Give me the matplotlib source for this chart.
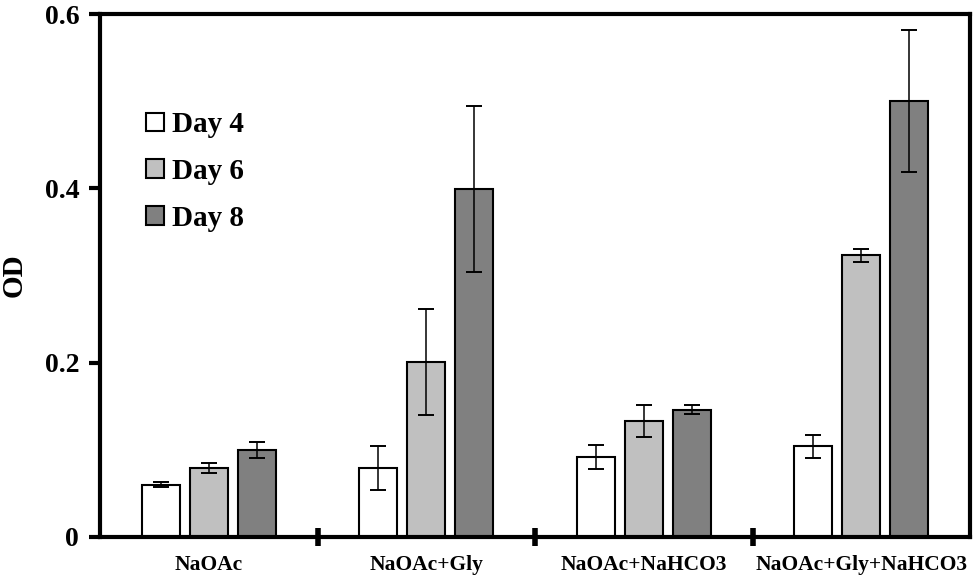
import matplotlib
matplotlib.use("Agg")
import matplotlib.pyplot as plt
import numpy as np

categories = ["NaOAc", "NaOAc+Gly", "NaOAc+NaHCO3", "NaOAc+Gly+NaHCO3"]
series_names = ["Day 4", "Day 6", "Day 8"]
day4 = [0.060, 0.079, 0.092, 0.104]
day6 = [0.079, 0.201, 0.133, 0.323]
day8 = [0.100, 0.399, 0.146, 0.500]
err4 = [0.003, 0.025, 0.014, 0.0135]
err6 = [0.006, 0.061, 0.018, 0.007]
err8 = [0.009, 0.095, 0.005, 0.0815]
yticks = [0, 0.2, 0.4, 0.6]
ytick_labels = ["0", "0.2", "0.4", "0.6"]
colors = ["#ffffff", "#c0c0c0", "#808080"]

plt.rcParams['font.family'] = ['Liberation Serif', 'DejaVu Serif']
plt.rcParams['font.weight'] = 'bold'

fig = plt.figure(figsize=(9.75, 5.77), dpi=100)
ax = fig.add_axes([100/975, (577-537)/577, 870/975, 523/577])

x = np.arange(len(categories))
width = 0.175
offset = 0.22
vals = [day4, day6, day8]
errs = [err4, err6, err8]
for i, (v, e) in enumerate(zip(vals, errs)):
    ax.bar(x + (i - 1) * offset, v, width, color=colors[i], edgecolor='black',
           linewidth=1.5, label=series_names[i], zorder=2)
    ax.errorbar(x + (i - 1) * offset, v, yerr=e, fmt='none', ecolor='black',
                elinewidth=1.1, capsize=5.5, capthick=1.4, zorder=3)

ax.set_xlim(-0.5, len(categories) - 0.5)
ax.set_ylim(0, 0.6)
ax.set_yticks(yticks)
ax.set_yticklabels(ytick_labels, fontsize=20, fontweight='bold')
ax.set_xticks(x)
ax.set_xticklabels(categories, fontsize=15.5, fontweight='bold')
ax.tick_params(axis='x', which='major', length=0, pad=13)
ax.set_xticks(np.arange(0.5, len(categories) - 0.5, 1), minor=True)
ax.tick_params(axis='x', which='minor', length=13, width=4, direction='inout')
ax.tick_params(axis='y', length=8, width=3, direction='out', pad=7)
for s in ax.spines.values():
    s.set_linewidth(3)
ax.set_ylabel("OD", fontsize=21, fontweight='bold', labelpad=12)

leg = ax.legend(loc='upper left', bbox_to_anchor=(0.0396, 0.836), frameon=False,
                prop={'size': 21, 'weight': 'bold'}, handlelength=0.6,
                handleheight=0.6, handletextpad=0.3, labelspacing=0.67,
                borderaxespad=0)

fig.savefig("out.png", dpi=100)
